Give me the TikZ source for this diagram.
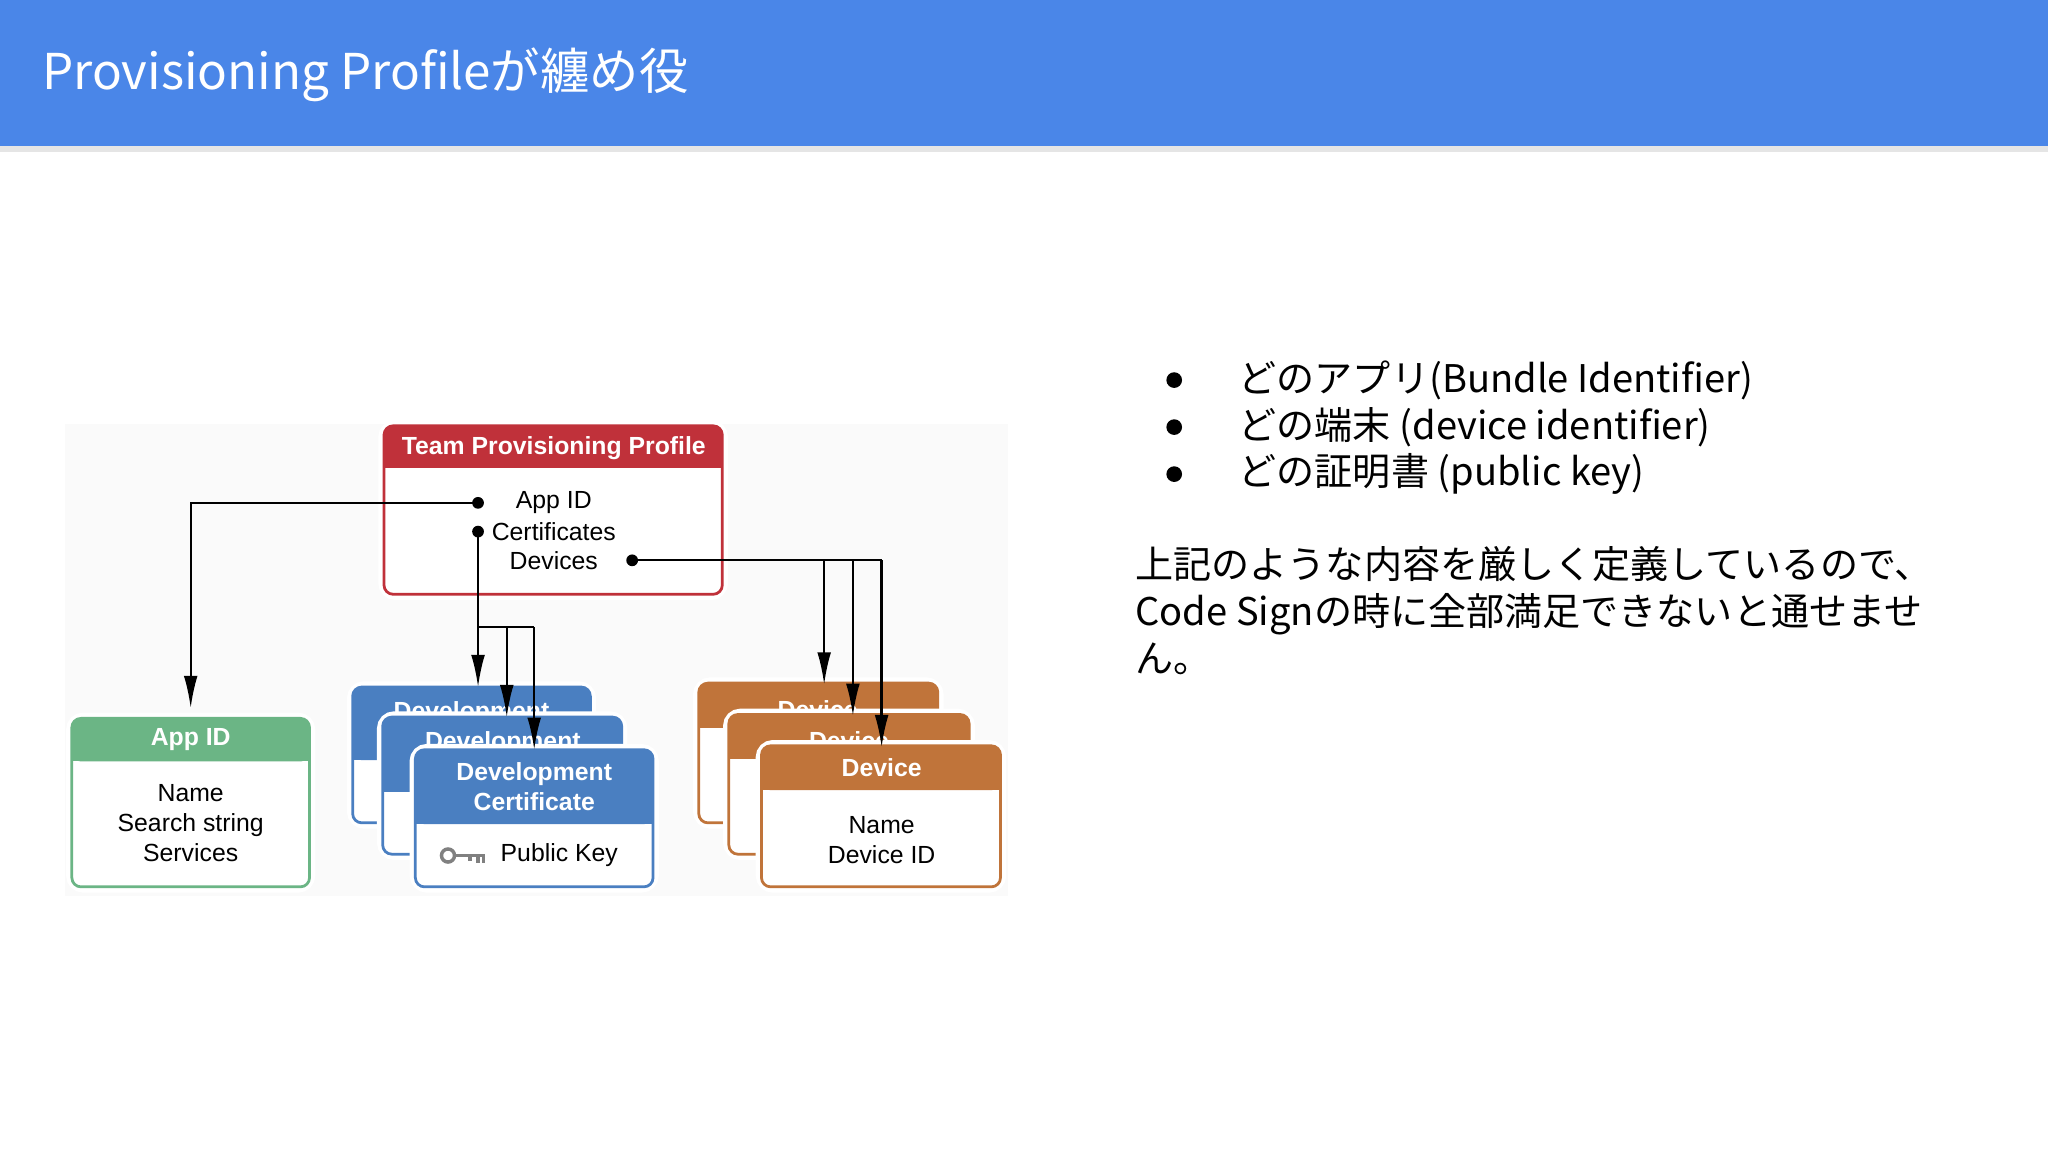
\documentclass[tikz,border=0pt]{standalone}
\usepackage{fontspec}
\setmainfont{Liberation Sans}
\newfontfamily\jp{Noto Sans CJK JP}
\usetikzlibrary{arrows.meta}
\definecolor{barblue}{HTML}{4A86E8}
\definecolor{tred}{HTML}{C0313A}
\definecolor{agreen}{HTML}{6BB585}
\definecolor{dblue}{HTML}{4A7FC1}
\definecolor{dorange}{HTML}{C0743A}
\newcommand{\card}[6]{% x1 y1 x2 y2 yh color
  \draw[fill=white,draw=white,line width=5pt,rounded corners=5] (#1,#2) rectangle (#3,#4);
  \draw[fill=white,draw=#6,line width=1.2pt,rounded corners=4] (#1,#2) rectangle (#3,#4);
  \fill[#6,rounded corners=4] (#1,#2) rectangle (#3,#5);
  \fill[#6] (#1+0.6,#5-6) rectangle (#3-0.6,#5);
}
\tikzset{dtext/.style={font=\fontsize{10.8}{13}\selectfont,align=center,inner sep=0pt},
  htext/.style={font=\fontsize{10.8}{13}\selectfont\bfseries,text=white,align=center,inner sep=0pt},
  conn/.style={line width=1pt,-{Latex[length=14pt,width=6pt]}},
  plain/.style={line width=1pt},
  jtext/.style={font=\jp\fontsize{16.6}{20.4}\selectfont,anchor=west,inner sep=0pt}}
\begin{document}
\begin{tikzpicture}[x=0.02cm,y=-0.02cm]
\useasboundingbox (0,0) rectangle (1568,882);
\fill[white] (0,0) rectangle (1568,882);
\fill[black!10] (0,112) rectangle (1568,116);
\fill[barblue] (0,0) rectangle (1568,112);
\node[font=\jp\fontsize{21.5}{26}\selectfont,text=white,anchor=west,inner sep=0pt] (title) at (32,57) {Provisioning Profileが纏め役};
% bullets
\foreach \yy/\t [count=\i] in {291/どのアプリ(Bundle Identifier),327/どの端末 (device identifier),363/どの証明書 (public key)}{
  \node[jtext] (b\i) at (948,\yy) {\t};
  \fill (899,\yy) circle (6);
}
\node[jtext,align=left,anchor=north west] (para) at (869,418) {上記のような内容を厳しく定義しているので、\\Code Signの時に全部満足できないと通せませ\\ん。};
% diagram background
\fill[black!2] (50,325) rectangle (772,686);
% team profile
\card{294}{326}{553}{455}{358}{tred}
\node[htext] (tp) at (424,343) {Team Provisioning Profile};
\node[dtext] (ia) at (424,385) {App ID};
\node[dtext] (ic) at (424,407) {Certificates};
\node[dtext] (idv) at (424,429) {Devices};
% app id
\card{55}{550}{237}{679}{583}{agreen}
\node[htext] (ah) at (146,566) {App ID};
\node[dtext] (ab) at (146,630) {Name\\Search string\\Services};
% dev certs
\card{270}{526}{452}{630}{582}{dblue}
\node[htext] (d1) at (361,546) {Development};
\card{293}{549}{476}{654}{606}{dblue}
\node[htext] (d2) at (385,569) {Development};
\card{318}{574}{500}{679}{631}{dblue}
\node[htext] (d3) at (409,602) {Development\\Certificate};
\node[dtext,anchor=west] (pk) at (383,655) {Public Key};
\draw[gray,line width=1.5pt] (343,655) circle (5);
\draw[gray,line width=1.5pt] (348,655) -- (371,655) (360,655) -- (360,659) (366,655) -- (366,661) (370,655)--(370,661);
% devices
\card{535}{523}{718}{630}{557}{dorange}
\node[htext] (v1) at (626,543) {Device};
\card{558}{547}{742}{654}{581}{dorange}
\node[htext] (v2) at (650,567) {Device};
\card{583}{571}{766}{679}{605}{dorange}
\node[htext] (v3) at (675,588) {Device};
\node[dtext] (vb) at (675,643) {Name\\Device ID};
% connectors
\coordinate (pa) at (366,385);
\coordinate (pc) at (366,407);
\coordinate (pd) at (484,429);
\foreach \c in {pa,pc,pd}{\fill (\c) circle (4.5);}
\coordinate (aend) at (146,542);
\draw[conn] (pa) -| (aend);
\coordinate (c1) at (366,526);
\coordinate (c2) at (388,549);
\coordinate (c3) at (409,574);
\coordinate (cs) at (366,480);
\draw[conn] (pc) -- (c1);
\draw[plain] (cs) -- (409,480);
\draw[conn] (388,480) -- (c2);
\draw[conn] (409,480) -- (c3);
\coordinate (v1e) at (631,524);
\coordinate (v2e) at (653,548);
\coordinate (v3e) at (675,572);
\draw[plain] (pd) -- (675,429);
\draw[conn] (631,429) -- (v1e);
\draw[conn] (653,429) -- (v2e);
\draw[conn] (675,429) -- (v3e);
\end{tikzpicture}
\end{document}
